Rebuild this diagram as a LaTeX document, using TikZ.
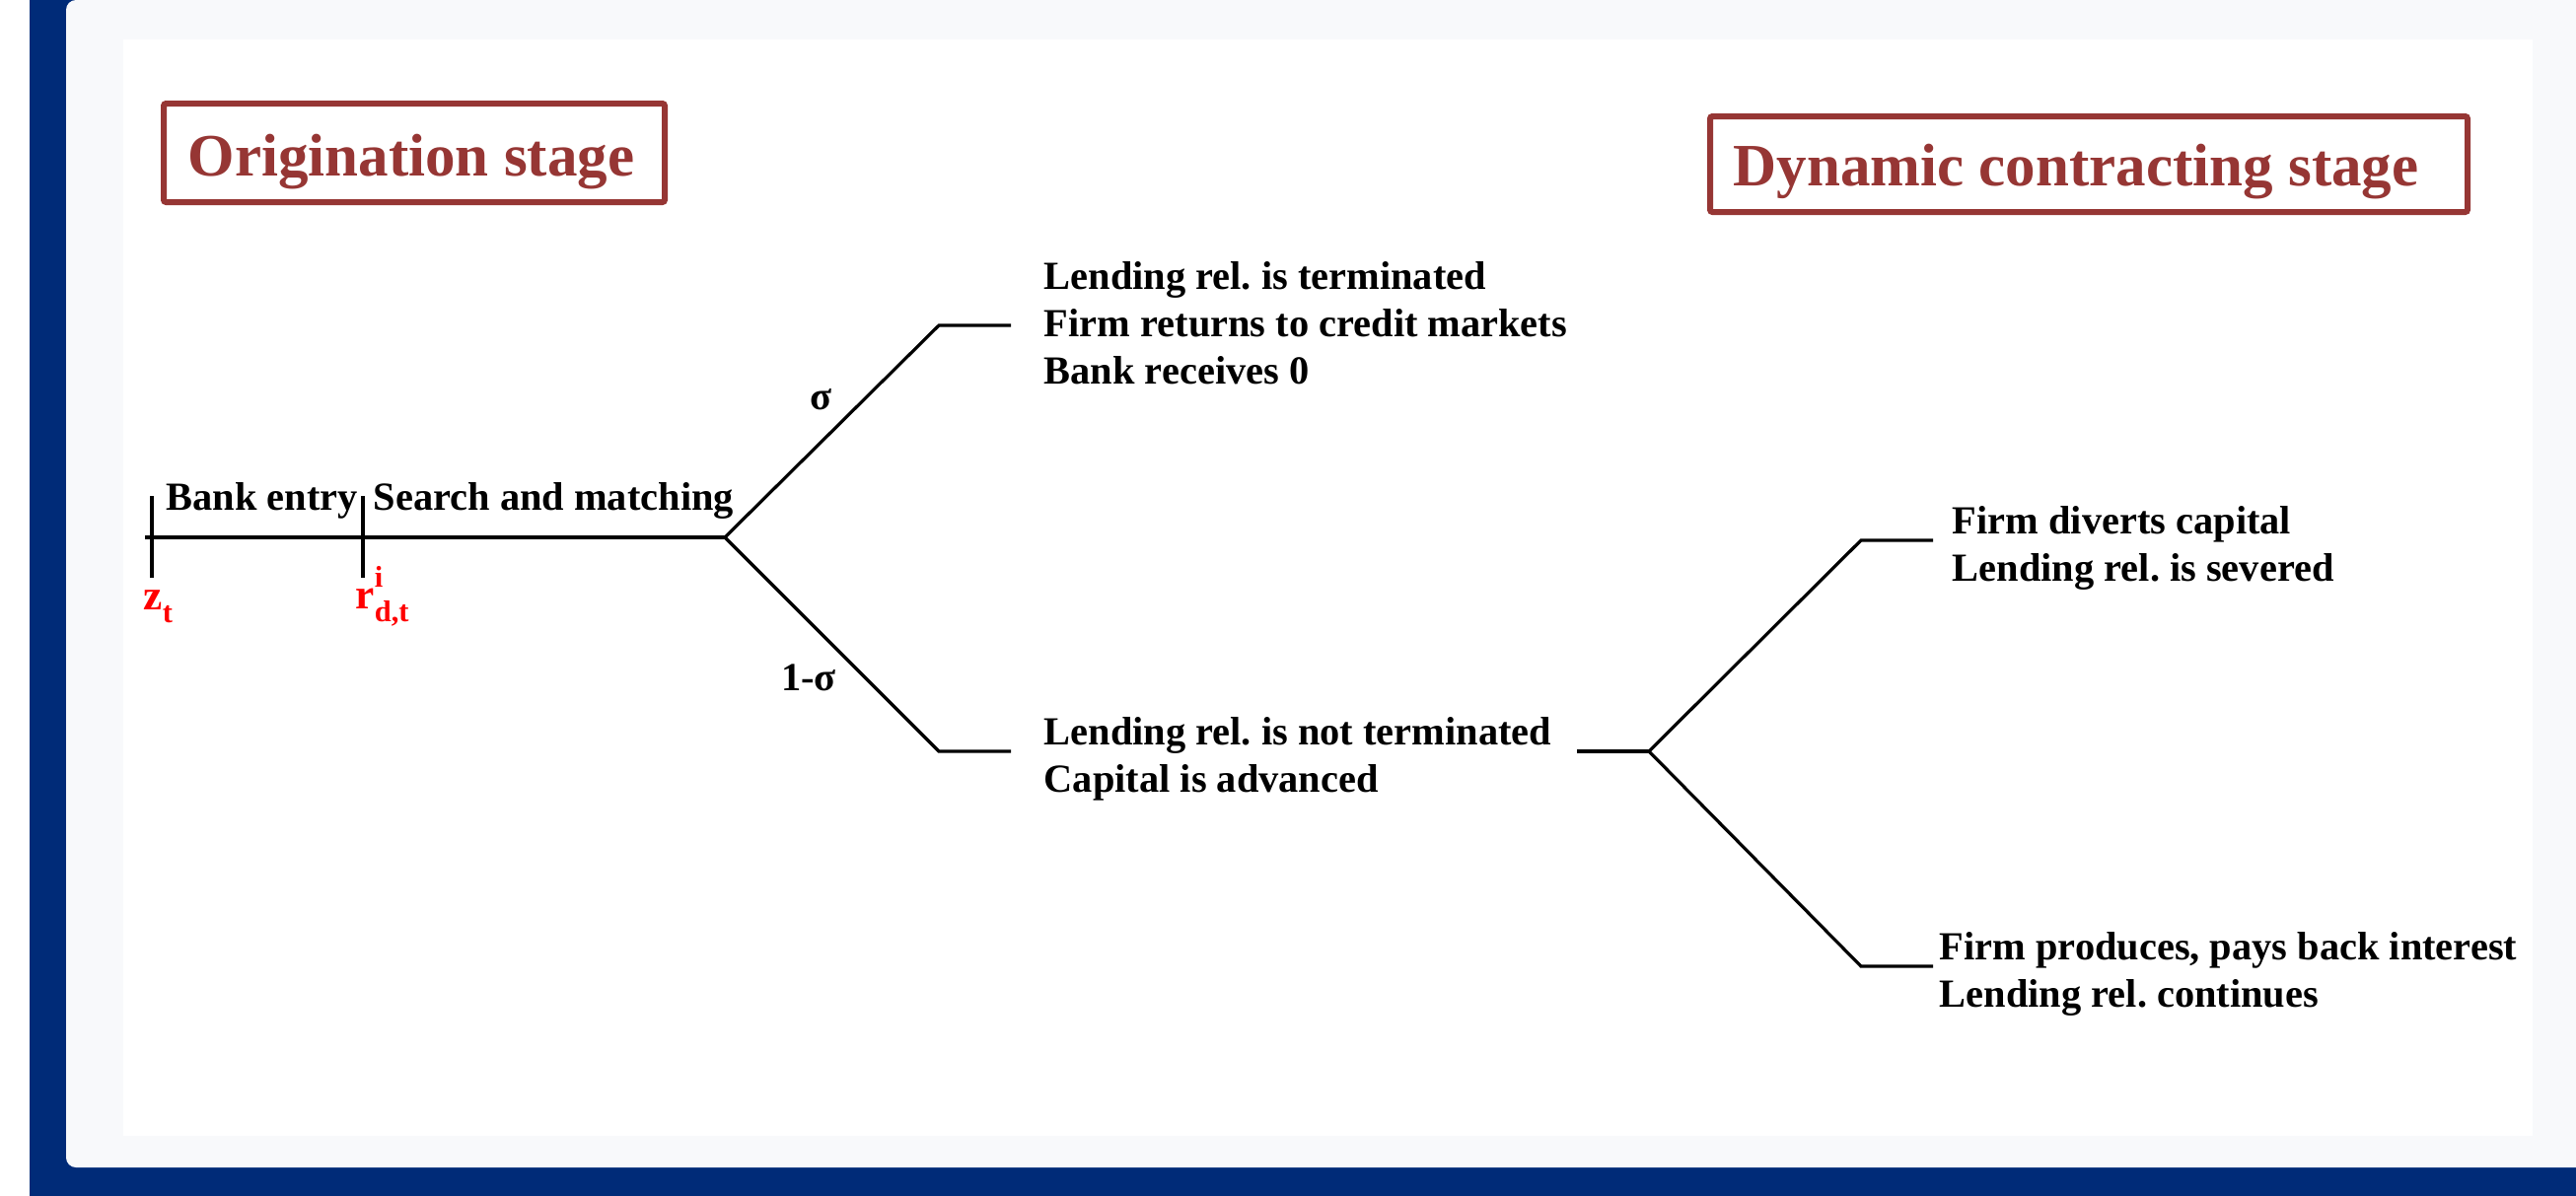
\documentclass[tikz,border=0pt]{standalone}
\usepackage{fontspec}
\setmainfont{Liberation Serif}
\definecolor{navy}{RGB}{0,43,120}
\definecolor{cardgray}{RGB}{248,249,251}
\definecolor{titlered}{RGB}{150,54,52}
\definecolor{labred}{RGB}{255,0,0}
\newcommand{\lowidx}[1]{\raisebox{-0.32em}{\fontsize{7.6}{8}\selectfont #1}}
\newcommand{\highidx}[1]{\raisebox{0.5em}{\fontsize{7.6}{8}\selectfont #1}}
\frenchspacing
\begin{document}
\frenchspacing
\begin{tikzpicture}[x=0.25pt,y=-0.25pt,
  titlebox/.style={draw=titlered, line width=1.5pt, rounded corners=0.6pt, inner sep=0pt},
  titletext/.style={text=titlered, font=\fontsize{15.25}{18}\selectfont\bfseries, inner sep=0pt, anchor=base west},
  body/.style={font=\fontsize{10.1}{12}\selectfont\bfseries\frenchspacing, inner sep=0pt, anchor=base west},
  redlab/.style={text=labred, font=\fontsize{10.8}{12}\selectfont\bfseries, inner sep=0pt, anchor=base west},
  branch/.style={line width=0.8pt, line join=miter},
  tickmark/.style={line width=1pt}]
\useasboundingbox (0,0) rectangle (2612,1212);
\clip (0,0) rectangle (2612,1212);
% background frame
\fill[white] (0,0) rectangle (2612,1212);
\fill[navy] (30,-20) rectangle (2640,1240);
\fill[cardgray, rounded corners=2.5pt] (67,0) rectangle (2660,1184);
\fill[white] (125,40) rectangle (2568,1152);

% stage titles
\node[titlebox, minimum width=127pt, minimum height=25pt] (origbox) at (420,155) {};
\node[titletext] (origtitle) at (190,178) {Origination stage};
\node[titlebox, minimum width=192pt, minimum height=24.25pt] (dynbox) at (2118,166.5) {};
\node[titletext] (dyntitle) at (1757,188) {Dynamic contracting stage};

% timeline
\coordinate (tl0) at (147,545);
\coordinate (b1) at (735,545);
\draw[branch] (tl0) -- (b1);
\coordinate (k1a) at (154,503); \coordinate (k1b) at (154,586);
\coordinate (k2a) at (368,503); \coordinate (k2b) at (368,586);
\draw[tickmark] (k1a) -- (k1b);
\draw[tickmark] (k2a) -- (k2b);
\node[body] (bank) at (168,517) {Bank entry};
\node[body] (search) at (378,517) {Search and matching};
\node[redlab] (zt) at (145,618) {z\lowidx{t}};
\node[redlab] (rdt) at (360,617) {r\rlap{\highidx{i}}\lowidx{d,t}};

% first branching
\coordinate (u1) at (952,330); \coordinate (u1e) at (1025,330);
\coordinate (d1) at (952,762); \coordinate (d1e) at (1025,762);
\draw[branch] (b1) -- (u1) -- (u1e);
\draw[branch] (b1) -- (d1) -- (d1e);
\node[body, anchor=center] (sig) at (832,405) {σ};
\node[body, anchor=center] (onesig) at (820,687) {1-σ};
\node[body] (term) at (1058,293) {\begin{tabular}[t]{@{}l@{}}Lending rel. is terminated\\Firm returns to credit markets\\Bank receives 0\end{tabular}};
\node[body] (notterm) at (1058,755) {\begin{tabular}[t]{@{}l@{}}Lending rel. is not terminated\\Capital is advanced\end{tabular}};

% second branching
\coordinate (s2) at (1599,762); \coordinate (b2) at (1672,762);
\draw[branch] (s2) -- (b2);
\coordinate (u2) at (1887,548); \coordinate (u2e) at (1960,548);
\coordinate (d2) at (1887,980); \coordinate (d2e) at (1960,980);
\draw[branch] (b2) -- (u2) -- (u2e);
\draw[branch] (b2) -- (d2) -- (d2e);
\node[body] (divert) at (1979,541) {\begin{tabular}[t]{@{}l@{}}Firm diverts capital\\Lending rel. is severed\end{tabular}};
\node[body] (produce) at (1966,973) {\begin{tabular}[t]{@{}l@{}}Firm produces, pays back interest\\Lending rel. continues\end{tabular}};
\end{tikzpicture}
\end{document}
